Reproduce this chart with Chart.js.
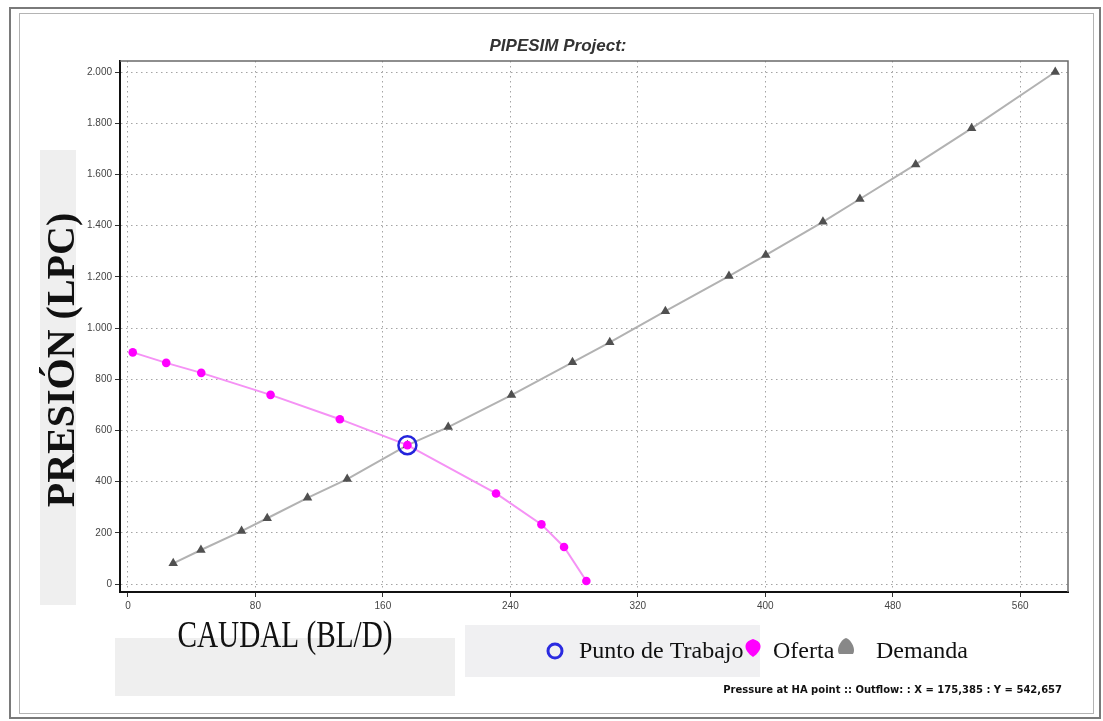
<!DOCTYPE html>
<html>
<head>
<meta charset="utf-8">
<title>PIPESIM Project</title>
<script src="https://cdn.jsdelivr.net/npm/chart.js@4/dist/chart.umd.min.js"></script>
<style>
  html, body { margin: 0; padding: 0; background: #fff; }
  #wrap { width: 1103px; height: 721px; position: relative; }
</style>
</head>
<body>
<div id="wrap"><canvas id="nodal-chart" width="1103" height="721"></canvas></div>
<script>
// oferta (inflow) curve: caudal BL/D vs presion LPC
var ofertaQ = [3, 24, 46, 89.5, 133, 175.385, 231, 259.5, 273.7, 287.7];
var ofertaP = [905, 864, 825, 739, 644, 542.657, 354, 233, 145, 12];

// demanda (outflow) curve
var demandaQ = [28.4, 45.8, 71.3, 87.4, 112.7, 137.6, 175.385, 201, 240.7, 279, 302.4, 337.3,
                377.2, 400.3, 436.2, 459.4, 494.4, 529.5, 582];
var demandaP = [81, 133, 207, 257, 337, 410, 542.657, 613, 738, 866, 944, 1066,
                1203, 1285, 1415, 1504, 1639, 1780, 2000];

// operating point
var puntoQ = [175.385];
var puntoP = [542.657];

var xTickStep = 80;
var yTickStep = 200;

var toXY = (qs, ps) => qs.map((q, i) => ({ x: q, y: ps[i] }));

var miles = (v) => String(v).replace(/\B(?=(\d{3})+(?!\d))/g, '.');

var sansFont = '"Liberation Sans", Arial, sans-serif';
var serifFont = '"Liberation Serif", "Times New Roman", serif';

// frame, label panels, titles and the hand-drawn legend
var decor = {
    id: 'decor',
    beforeDraw: (chart) => {
        var c = chart.ctx;
        c.save();
        c.fillStyle = '#ffffff';
        c.fillRect(0, 0, chart.width, chart.height);

        // light grey panels behind the axis titles and legend
        c.fillStyle = '#efefef';
        c.fillRect(40, 150, 36, 455);
        c.fillRect(115, 638, 340, 58);
        c.fillStyle = '#f0f0f2';
        c.fillRect(465, 625, 295, 52);

        // window frame
        c.strokeStyle = '#7a7a7a';
        c.lineWidth = 2;
        c.strokeRect(10, 8, 1090, 710);
        c.strokeStyle = '#b4b4b4';
        c.lineWidth = 1;
        c.strokeRect(19.5, 13.5, 1074, 700);
        c.restore();
    },
    afterDraw: (chart) => {
        var c = chart.ctx;
        var a = chart.chartArea;
        c.save();

        // top and right edges of the plot box
        c.strokeStyle = '#6a6a6a';
        c.lineWidth = 1.5;
        c.beginPath();
        c.moveTo(a.left, a.top);
        c.lineTo(a.right, a.top);
        c.lineTo(a.right, a.bottom);
        c.stroke();

        // title
        c.fillStyle = '#333';
        c.font = 'italic bold 17px ' + sansFont;
        c.textAlign = 'center';
        c.textBaseline = 'middle';
        c.fillText('PIPESIM Project:', 558, 46);

        // y axis title
        c.save();
        c.translate(64, 360);
        c.rotate(-Math.PI / 2);
        c.fillStyle = '#111';
        c.font = 'bold 40px ' + serifFont;
        c.textAlign = 'center';
        c.textBaseline = 'middle';
        c.fillText('PRESIÓN (LPC)', 0, 0);
        c.restore();

        // x axis title (narrow serif)
        c.save();
        c.translate(285, 647);
        c.scale(0.79, 1);
        c.fillStyle = '#111';
        c.font = '37px ' + serifFont;
        c.textAlign = 'center';
        c.textBaseline = 'alphabetic';
        c.fillText('CAUDAL (BL/D)', 0, 0);
        c.restore();

        // legend
        c.font = '24px ' + serifFont;
        c.fillStyle = '#111';
        c.textAlign = 'left';
        c.textBaseline = 'alphabetic';

        c.strokeStyle = '#2a2ae0';
        c.lineWidth = 3;
        c.beginPath();
        c.arc(555, 651, 7, 0, Math.PI * 2);
        c.stroke();
        c.fillText('Punto de Trabajo', 579, 658);

        c.fillStyle = '#ff00ff';
        c.beginPath();
        c.moveTo(753, 639);
        c.bezierCurveTo(764, 642, 762, 651, 753, 657);
        c.bezierCurveTo(744, 651, 742, 642, 753, 639);
        c.fill();
        c.fillStyle = '#111';
        c.fillText('Oferta', 773, 658);

        c.fillStyle = '#888';
        c.beginPath();
        c.moveTo(846, 638);
        c.bezierCurveTo(852, 640, 856, 650, 853, 654);
        c.lineTo(839, 654);
        c.bezierCurveTo(836, 650, 840, 640, 846, 638);
        c.fill();
        c.fillStyle = '#111';
        c.fillText('Demanda', 876, 658);

        // footer readout
        c.font = 'bold 10px "DejaVu Sans", Verdana, sans-serif';
        c.textAlign = 'right';
        c.textBaseline = 'middle';
        c.fillText('Pressure at HA point :: Outflow: : X = 175,385 : Y = 542,657', 1062, 690);

        c.restore();
    }
};

var ctx = document.getElementById('nodal-chart').getContext('2d');

var chart = new Chart(ctx, {
    type: 'scatter',
    data: {
        datasets: [{
            label: 'Punto de Trabajo',
            data: toXY(puntoQ, puntoP),
            showLine: false,
            pointStyle: 'circle',
            pointRadius: 9,
            pointBorderWidth: 2.5,
            pointBorderColor: '#2424dc',
            pointBackgroundColor: 'rgba(0,0,0,0)'
        }, {
            label: 'Oferta',
            data: toXY(ofertaQ, ofertaP),
            showLine: true,
            borderColor: '#f592f5',
            borderWidth: 2,
            pointStyle: 'circle',
            pointRadius: 4.3,
            pointBorderWidth: 0,
            pointBackgroundColor: '#ff00ff'
        }, {
            label: 'Demanda',
            data: toXY(demandaQ, demandaP),
            showLine: true,
            borderColor: '#b2b2b2',
            borderWidth: 2,
            pointStyle: 'triangle',
            pointRadius: 5.5,
            pointBorderWidth: 0,
            pointBackgroundColor: '#505050'
        }]
    },
    options: {
        responsive: false,
        animation: false,
        layout: { padding: { left: 0, top: 61, right: 35, bottom: 0 } },
        plugins: {
            legend: { display: false },
            title: { display: false },
            tooltip: { enabled: false }
        },
        scales: {
            x: {
                type: 'linear',
                min: -5,
                max: 590,
                afterFit: (s) => { s.height = 129; },
                ticks: {
                    stepSize: xTickStep,
                    includeBounds: false,
                    maxRotation: 0,
                    padding: 3,
                    color: '#444',
                    font: { family: sansFont, size: 10 }
                },
                grid: { color: '#a4a4a4', lineWidth: 1, tickLength: 5, tickColor: '#333', tickWidth: 1 },
                border: { display: true, color: '#111', width: 2, dash: [1.5, 3.5] }
            },
            y: {
                type: 'linear',
                min: -31,
                max: 2043,
                afterFit: (s) => { s.width = 120; },
                ticks: {
                    stepSize: yTickStep,
                    includeBounds: false,
                    padding: 3,
                    color: '#444',
                    font: { family: sansFont, size: 10 },
                    callback: (v) => miles(v)
                },
                grid: { color: '#a4a4a4', lineWidth: 1, tickLength: 5, tickColor: '#333', tickWidth: 1 },
                border: { display: true, color: '#111', width: 2, dash: [1.5, 3.5] }
            }
        }
    },
    plugins: [decor]
});
</script>
</body>
</html>
